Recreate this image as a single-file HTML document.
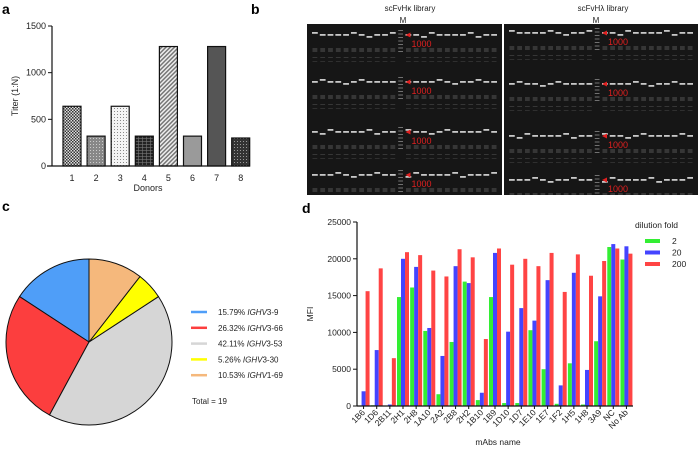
<!DOCTYPE html>
<html><head><meta charset="utf-8"><style>
body{margin:0;background:#fff;font-family:"Liberation Sans",sans-serif}
svg text{font-family:"Liberation Sans",sans-serif}
</style></head><body>
<svg id="fig" width="698" height="447" viewBox="0 0 698 447" xmlns="http://www.w3.org/2000/svg">
<defs>
<pattern id="p1" width="3" height="3" patternUnits="userSpaceOnUse"><rect width="3" height="3" fill="#ddd"/><rect width="1.5" height="1.5" fill="#333"/><rect x="1.5" y="1.5" width="1.5" height="1.5" fill="#333"/></pattern>
<pattern id="p2" width="3" height="3" patternUnits="userSpaceOnUse"><rect width="3" height="3" fill="#888"/><rect width="1" height="1" fill="#ccc"/></pattern>
<pattern id="p3" width="3" height="3" patternUnits="userSpaceOnUse"><rect width="3" height="3" fill="#f4f4f4"/><rect width="1" height="1" fill="#888"/></pattern>
<pattern id="p4" width="4" height="3" patternUnits="userSpaceOnUse"><rect width="4" height="3" fill="#222"/><rect width="4" height="0.6" fill="#777"/><rect x="2" width="0.6" height="3" fill="#777"/></pattern>
<pattern id="p5" width="3" height="3" patternUnits="userSpaceOnUse" patternTransform="rotate(45)"><rect width="3" height="3" fill="#eee"/><rect width="1.5" height="3" fill="#777"/></pattern>
<pattern id="p8" width="3" height="3" patternUnits="userSpaceOnUse"><rect width="3" height="3" fill="#333"/><rect width="1" height="1" fill="#999"/></pattern>
<clipPath id="c0"><rect x="307" y="24" width="195" height="171"/></clipPath>
<clipPath id="c1"><rect x="504" y="24" width="194" height="171"/></clipPath>
</defs>
<g id="pa"></g>
<g id="pb"></g>
<g id="pc"></g>
<g id="pd"></g>
</svg>
<script>
// ---- Panel a data
const donors=["1","2","3","4","5","6","7","8"];
const titers=[640,320,640,320,1280,320,1280,300];
const titerTicks=[0,500,1000,1500];
// ---- Panel c data
const pieLabels=["IGHV3-9","IGHV3-66","IGHV3-53","IGHV3-30","IGHV1-69"];
const piePercents=[15.79,26.32,42.11,5.26,10.53];
// ---- Panel d data
const mAbs=["1B6","1D6","2B11","2H1","2H8","1A10","2A2","2B8","2H2","1B10","1B9","1D10","1D7","1E10","1E7","1F2","1H5","1H8","3A9","NC","No Ab"];
const mfi2=[0,100,0,14800,16100,10200,1600,8700,16900,800,14800,400,400,10300,5000,300,5800,200,8800,21600,19900];
const mfi20=[2000,7600,200,20000,18900,10600,6800,19000,16700,1800,20800,10100,13300,11600,17100,2800,18100,4900,14900,22000,21700];
const mfi200=[15600,18700,6500,20900,20500,18400,17600,21300,20200,9100,21400,19200,20000,19000,20800,15500,20600,17700,19700,21400,20700];
const mfiTicks=[0,5000,10000,15000,20000,25000];
const dilutions=["2","20","200"];

const NS="http://www.w3.org/2000/svg";
function mk(parent,tag,attrs,txt){const e=document.createElementNS(NS,tag);for(const k in attrs)e.setAttribute(k,attrs[k]);if(txt!==undefined)e.textContent=txt;parent.appendChild(e);return e;}

// ===== Panel A
(function(){
const g=document.getElementById('pa');
const x0=52,y0=166,yTop=26,xEnd=250;
const y=v=>y0-(v/1500)*(y0-yTop);
const xc=i=>72+i*24.1;
let t=mk(g,'text',{x:2,y:14,'font-size':14,'font-weight':'bold'},'a');


const fills=['url(#p1)','url(#p2)','url(#p3)','url(#p4)','url(#p5)','#9a9a9a','#555','url(#p8)'];
titers.forEach((v,i)=>{
 const r=mk(g,'rect',{x:xc(i)-9,y:y(v),width:18,height:y0-y(v),fill:fills[i],stroke:'#111','stroke-width':1.2});
 
 
 const l=mk(g,'text',{x:xc(i),y:y0+15,'font-size':9,'text-anchor':'middle',fill:'#222'},donors[i]);
 
 
});
mk(g,'line',{x1:x0,y1:yTop,x2:x0,y2:y0,stroke:'#111','stroke-width':1.2});
mk(g,'line',{x1:47,y1:y0,x2:xEnd,y2:y0,stroke:'#111','stroke-width':1.2});
titerTicks.forEach(v=>{
 mk(g,'line',{x1:x0-4,y1:y(v),x2:x0,y2:y(v),stroke:'#111'});
 const l=mk(g,'text',{x:x0-6,y:y(v)+3,'font-size':9,'text-anchor':'end',fill:'#222'},v);
 
 
});
const yt=mk(g,'text',{x:18,y:96,'font-size':9,'text-anchor':'middle',transform:'rotate(-90 18 96)',fill:'#222'},'Titer (1:N)');


const xt=mk(g,'text',{x:148,y:191,'font-size':9,'text-anchor':'middle',fill:'#222'},'Donors');


})();

// ===== Panel B (gel images)
(function(){
const g=document.getElementById('pb');
let t=mk(g,'text',{x:251,y:14,'font-size':14,'font-weight':'bold'},'b');


const gels=[{x:307,w:195,title:'scFvHκ library',tx:410,mx:403,rows:[34,81,131,174]},{x:504,w:194,title:'scFvHλ library',tx:603,mx:596,rows:[32,83,135,179]}];
gels.forEach((G,gi)=>{
 const gg=mk(g,'g',{'clip-path':'url(#c'+gi+')'});
 
 
 mk(gg,'rect',{x:G.x,y:24,width:G.w,height:171,fill:'#161616'});
 const n=24, lw=(G.w-8)/n;
 G.rows.forEach((ry,ri)=>{
  for(let i=0;i<n;i++){
   const lx=G.x+4+i*lw;
   if(i===11){
     for(let k=0;k<7;k++) mk(gg,'rect',{x:lx+1.5,y:ry-4+k*3.5,width:lw-3,height:1,fill:'#999',opacity:0.7});
     continue;}
   const off=((i*7+ri*3)%5===0)?-2:((i*5+ri)%7===0?2:0);
   mk(gg,'rect',{x:lx+1,y:ry+off,width:lw-2,height:1.8,fill:'#e8e8e8',opacity:0.85});
   mk(gg,'rect',{x:lx+1.5,y:ry+14,width:lw-3,height:4,fill:'#444',opacity:0.7});
   mk(gg,'rect',{x:lx+1.5,y:ry+23,width:lw-3,height:1,fill:'#555',opacity:0.5});
   mk(gg,'rect',{x:lx+1.5,y:ry+27,width:lw-3,height:1,fill:'#555',opacity:0.4});
  }
  const ax=G.x+4+12*lw+1;
  mk(gg,'path',{d:`M${ax} ${ry+1} l5 -2.5 v5 z`,fill:'#e02020'});
  const l=mk(gg,'text',{x:ax+6,y:ry+13,'font-size':9,fill:'#e02020'},'1000');
  
  
 });
 const tt=mk(g,'text',{x:G.tx,y:11,'font-size':8,'text-anchor':'middle',fill:'#222'},G.title);
 
 
 const m=mk(g,'text',{x:G.mx,y:23,'font-size':8,'text-anchor':'middle',fill:'#222'},'M');
 
 
});
})();

// ===== Panel C pie
(function(){
const g=document.getElementById('pc');
let t=mk(g,'text',{x:2,y:211,'font-size':14,'font-weight':'bold'},'c');


const cx=89,cy=342,r=83;
const cols=['#4f9ef8','#fc3e3e','#d6d6d6','#ffff00','#f5b87c'];
const total=piePercents.reduce((a,b)=>a+b,0);
let a=0;
piePercents.forEach((p,i)=>{
 const a1=a+p/total*2*Math.PI;
 const sx=cx-Math.sin(a)*r, sy=cy-Math.cos(a)*r;
 const ex=cx-Math.sin(a1)*r, ey=cy-Math.cos(a1)*r;
 const large=(a1-a)>Math.PI?1:0;
 const s=mk(g,'path',{d:`M${cx} ${cy} L${sx} ${sy} A${r} ${r} 0 ${large} 0 ${ex} ${ey} Z`,fill:cols[i],stroke:'#111','stroke-width':1});
 
 
 a=a1;
 const ly=312+i*15.8;
 mk(g,'line',{x1:191,y1:ly,x2:207,y2:ly,stroke:cols[i],'stroke-width':2.5});
 const tx=mk(g,'text',{x:218,y:ly+3,'font-size':8,fill:'#222'});
 
 
 const s1=document.createElementNS(NS,'tspan');s1.textContent=piePercents[i].toFixed(2)+'% ';tx.appendChild(s1);
 const s2=document.createElementNS(NS,'tspan');s2.setAttribute('font-style','italic');s2.textContent=pieLabels[i].slice(0,4);tx.appendChild(s2);
 const s3=document.createElementNS(NS,'tspan');s3.textContent=pieLabels[i].slice(4);tx.appendChild(s3);
});
const tl=mk(g,'text',{x:192,y:404,'font-size':8,fill:'#222'},'Total = 19');


})();

// ===== Panel D
(function(){
const g=document.getElementById('pd');
let t=mk(g,'text',{x:302,y:213,'font-size':14,'font-weight':'bold'},'d');


const x0=357,xEnd=633,y0=406,yTop=222;
const y=v=>y0-(v/25000)*(y0-yTop);
const band=(xEnd-x0)/mAbs.length;
const bw=4;
const cols=['#33ee33','#4444ff','#ff4444'];
const series=[mfi2,mfi20,mfi200];
mAbs.forEach((name,i)=>{
 const c=x0+band*(i+0.5);
 series.forEach((s,k)=>{
  const bx=c+(k-1.5)*bw;
  const r=mk(g,'rect',{x:bx,y:y(s[i]),width:bw,height:y0-y(s[i]),fill:cols[k]});
  
  
 });
 mk(g,'line',{x1:c,y1:y0,x2:c,y2:y0+3,stroke:'#111'});
 const l=mk(g,'text',{x:c+2,y:y0+7,'font-size':8.5,'text-anchor':'end',transform:`rotate(-45 ${c+2} ${y0+7})`,fill:'#222'},name);
 
 
});
mk(g,'line',{x1:x0,y1:yTop,x2:x0,y2:y0,stroke:'#111','stroke-width':1.2});
mk(g,'line',{x1:x0,y1:y0,x2:xEnd,y2:y0,stroke:'#111','stroke-width':1.2});
mfiTicks.forEach(v=>{
 mk(g,'line',{x1:x0-4,y1:y(v),x2:x0,y2:y(v),stroke:'#111'});
 const l=mk(g,'text',{x:x0-6,y:y(v)+3,'font-size':8.5,'text-anchor':'end',fill:'#222'},v);
 
 
});
const yt=mk(g,'text',{x:313,y:314,'font-size':8.5,'text-anchor':'middle',transform:'rotate(-90 313 314)',fill:'#222'},'MFI');


const xt=mk(g,'text',{x:498,y:445,'font-size':8.5,'text-anchor':'middle',fill:'#222'},'mAbs name');


const lt=mk(g,'text',{x:635,y:228,'font-size':8.5,fill:'#222'},'dilution fold');


dilutions.forEach((d,k)=>{
 const ly=241+k*11.5;
 const sw=mk(g,'rect',{x:645,y:ly-2,width:15,height:4,fill:cols[k]});
 
 
 const l=mk(g,'text',{x:672,y:ly+3,'font-size':8.5,fill:'#222'},d);
 
 
});
})();
</script>
</body></html>
